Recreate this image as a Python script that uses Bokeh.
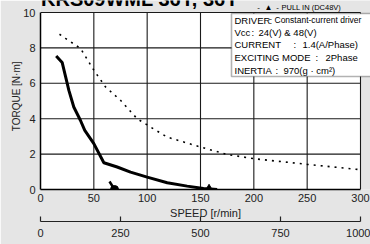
from bokeh.plotting import figure
from bokeh.models import Range1d, LinearAxis, FixedTicker, Label, BoxAnnotation
from bokeh.embed import file_html
from bokeh.resources import INLINE

# ---- data ----
pullout_speed = [14.7, 20.3, 23.4, 26.6, 31.2, 37.5, 41.5, 50.0, 59.4, 71.9, 84.4, 100.0, 118.8, 137.5, 152.8, 165.6]
pullout_torque = [7.54, 7.18, 6.40, 5.60, 4.66, 3.90, 3.34, 2.59, 1.51, 1.27, 0.98, 0.70, 0.38, 0.19, 0.06, 0.0]

pullout48_speed = [17.8, 23.4, 37.5, 50.0, 60.9, 75.0, 90.6, 104.0, 118.8, 150.0, 175.0, 200.0, 250.0, 300.0]
pullout48_torque = [8.77, 8.54, 7.97, 6.74, 5.80, 5.04, 4.00, 3.50, 2.96, 2.40, 1.98, 1.74, 1.42, 1.12]

pullin24_speed = [64.7, 69.4]
pullin24_torque = [0.45, 0.0]

pullin48_speed = [158.0]
pullin48_torque = [0.0]

x_ticks = [0, 50, 100, 150, 200, 250, 300]
y_ticks = [0, 2, 4, 6, 8, 10]
pps_ticks = [0, 250, 500, 750, 1000]

FONT = "Liberation Sans"
BG = "#e5e5e5"
INK = "#1a1a1a"

# frame spans from the y axis to the right edge and from the top edge to the x axis
PX_X = 320 / 300      # pixels per r/min
PX_Y = 177 / 10       # pixels per N·m
X_MAX = 330 / PX_X
Y_MAX = 189 / PX_Y

p = figure(width=370, height=244, output_backend="svg", toolbar_location=None,
           x_range=Range1d(0, X_MAX), y_range=Range1d(0, Y_MAX),
           min_border_left=40, min_border_right=0, min_border_top=0, min_border_bottom=55)
p.border_fill_color = BG
p.background_fill_color = BG
p.outline_line_color = None
p.xgrid.grid_line_color = None
p.ygrid.grid_line_color = None

def dx(px):
    return (px - 40) / PX_X
def dy(py):
    return (189 - py) / PX_Y

# white plot area, grid and border
p.quad(left=x_ticks[0], right=x_ticks[-1], bottom=y_ticks[0], top=y_ticks[-1],
       fill_color="white", line_color=None)
p.segment(x0=x_ticks[1:], x1=x_ticks[1:], y0=[y_ticks[0]] * (len(x_ticks) - 1),
          y1=[y_ticks[-1]] * (len(x_ticks) - 1), line_color=INK, line_width=1.1)
p.segment(x0=[x_ticks[0]] * (len(y_ticks) - 1), x1=[x_ticks[-1]] * (len(y_ticks) - 1),
          y0=y_ticks[1:], y1=y_ticks[1:], line_color=INK, line_width=1.1)

# axes
for ax in (p.xaxis[0], p.yaxis[0]):
    ax.axis_line_color = "black"
    ax.axis_line_width = 1.5
    ax.major_tick_in = 0
    ax.major_tick_out = 0
    ax.minor_tick_line_color = None
    ax.major_label_text_font = FONT
    ax.major_label_text_font_size = "11px"
    ax.major_label_text_color = "#222222"
    ax.axis_label_text_font = FONT
    ax.axis_label_text_font_style = "normal"
    ax.axis_label_text_color = "#222222"

p.xaxis[0].bounds = (x_ticks[0], x_ticks[-1])
p.yaxis[0].bounds = (y_ticks[0], y_ticks[-1])
p.xaxis[0].ticker = FixedTicker(ticks=x_ticks)
p.yaxis[0].ticker = FixedTicker(ticks=y_ticks)
p.xaxis[0].axis_label = "SPEED [r/min]"
p.xaxis[0].axis_label_text_font_size = "11px"
p.xaxis[0].major_label_standoff = 4
p.xaxis[0].axis_label_standoff = 2
p.yaxis[0].axis_label = "TORQUE  [N·m]"
p.yaxis[0].axis_label_text_font_size = "10px"
p.yaxis[0].major_label_standoff = 5
p.yaxis[0].axis_label_standoff = -2

# secondary speed axis
p.extra_x_ranges = {"pps": Range1d(0, pps_ticks[-1] * X_MAX / x_ticks[-1])}
ax2 = LinearAxis(x_range_name="pps", ticker=FixedTicker(ticks=pps_ticks),
                 bounds=(pps_ticks[0], pps_ticks[-1]))
ax2.axis_line_color = "#222222"
ax2.axis_line_width = 1.2
ax2.major_tick_in = 5
ax2.major_tick_out = 0
ax2.major_tick_line_color = "#222222"
ax2.major_tick_line_width = 1.2
ax2.minor_tick_line_color = None
ax2.major_label_text_font = FONT
ax2.major_label_text_font_size = "11px"
ax2.major_label_text_color = "#222222"
ax2.major_label_standoff = 7
p.add_layout(ax2, "below")

# curves
p.line(pullout_speed, pullout_torque, line_color="black", line_width=3)
p.line(pullout48_speed, pullout48_torque, line_color="black", line_width=1.6, line_dash="2 5")
p.line(pullin24_speed, pullin24_torque, line_color="black", line_width=2.5)
p.scatter(pullin24_speed[-1:], pullin24_torque[-1:], marker="circle", size=8, color="black")
p.scatter(pullin48_speed, pullin48_torque, marker="triangle", size=9, color="black")

# spec box
p.add_layout(BoxAnnotation(left=dx(231), right=dx(390), top=dy(13), bottom=dy(76),
                           fill_color="white", fill_alpha=1, line_color="black", line_width=1.6))

def txt(px, py, t, size="9px", **kw):
    p.add_layout(Label(x=dx(px), y=dy(py), text=t, text_font=FONT, text_font_size=size,
                       text_baseline="middle", text_color="black", **kw))

spec_rows = [
    (19.5, "DRIVER", 234, 269, "Constant-current driver", 274),
    (32.0, "Vcc", 234, 251, "24(V) & 48(V)", 258),
    (44.0, "CURRENT", 234, 293, "1.4(A/Phase)", 302),
    (56.5, "EXCITING MODE", 234, 315, "2Phase", 325),
    (69.5, "INERTIA", 234, 275, "970(g · cm²)", 283),
]
for py, key, kx, cx, val, vx in spec_rows:
    txt(kx, py, key, "9.5px")
    txt(cx, py, ":", "9.5px")
    txt(vx, py, val, "8.5px" if key == "DRIVER" else "9.5px")

# legend fragment above the box
txt(258, 7, "-", "8px", text_align="center")
txt(268, 7, "▲", "8px", text_align="center")
txt(277, 7, "-", "8px", text_align="center")
txt(281, 7, "PULL IN (DC48V)", "7.5px")

# title (cut at the top edge)
txt(40.5, -1.5, "KRS09WML 36Y, 36Y", "20px", text_font_style="bold")

open("out.html", "w").write(file_html(p, INLINE))
